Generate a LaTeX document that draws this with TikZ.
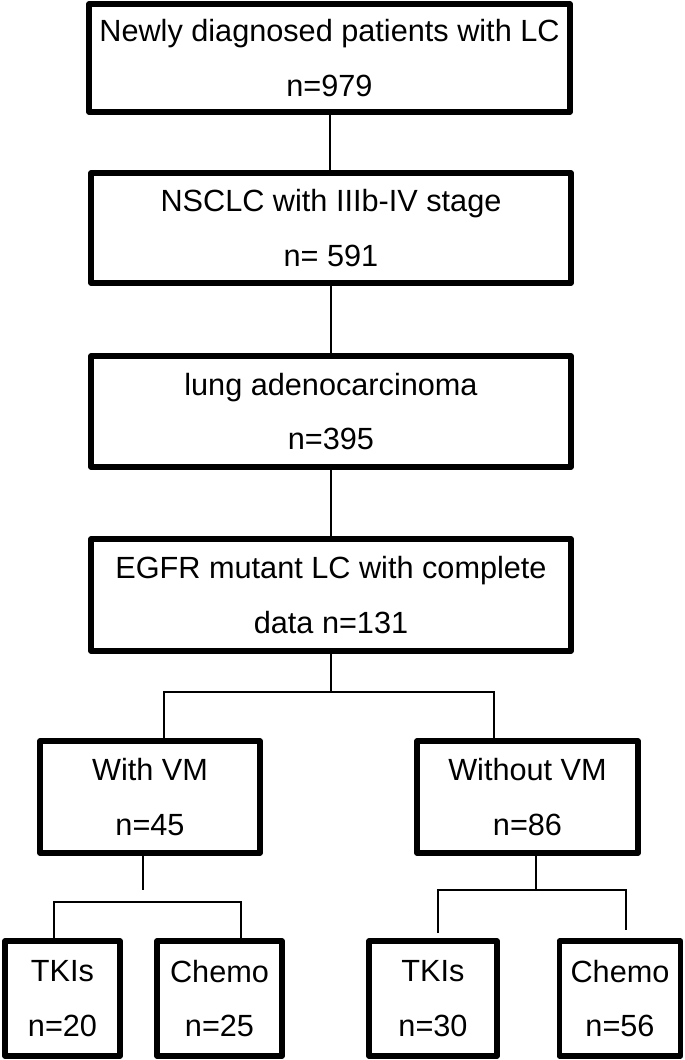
\documentclass[tikz,border=0pt]{standalone}
\usepackage{fontspec}
\setmainfont{Liberation Sans}
\newdimen\pxu
\pxu=0.75pt

\begin{document}
\begin{tikzpicture}[x=1\pxu,y=-1\pxu,box/.style n args={2}{draw,rectangle,line width=5.5\pxu,line join=round,minimum width=#1\pxu,minimum height=#2\pxu,inner sep=0pt,align=center,font=\fontsize{23}{41}\selectfont},ln/.style={line width=2\pxu}]
\useasboundingbox (0,0) rectangle (685,1060);
% main column
\node[box={481}{108}] (lc) at (329.5,58) {Newly diagnosed patients with LC\\n=979};
\node[box={480}{110}] (nsclc) at (331,228) {NSCLC with IIIb-IV stage\\n= 591};
\node[box={480}{111}] (adeno) at (331,411.5) {lung adenocarcinoma\\n=395};
\node[box={480}{112}] (egfr) at (331,595) {EGFR mutant LC with complete\\data n=131};
\draw[ln] (lc.south) -- (lc.south |- nsclc.north);
\draw[ln] (nsclc.south) -- (nsclc.south |- adeno.north);
\draw[ln] (adeno.south) -- (adeno.south |- egfr.north);
% VM groups
\node[box={220}{112}] (vm) at (150,797) {With VM\\n=45};
\node[box={221}{112}] (novm) at (527.5,797) {Without VM\\n=86};
\coordinate (s1l) at (164,692);
\coordinate (s1r) at (494,692);
\draw[ln] (egfr.south) -- (egfr.south |- s1l);
\draw[ln] (s1l |- vm.north) -- (s1l) -- (s1r) -- (s1r |- novm.north);
% treatments
\foreach \nm/\x/\w/\t/\v in %
{tk1/62.5/115/TKIs/20,ch1/219.5/125/Chemo/25,tk2/433/128/TKIs/30,ch2/620/121/Chemo/56} {
   \node[box={\w}{115}] (\nm) at (\x,998.5) {\t\\n=\v};
}
\coordinate (s2) at (143,890);
\coordinate (s2l) at (54,902);
\coordinate (s2r) at (241,902);
\draw[ln] (s2 |- vm.south) -- (s2);
\draw[ln] (s2l |- tk1.north) -- (s2l) -- (s2r) -- (s2r |- ch1.north);
\coordinate (s3) at (536,890);
\coordinate (s3l) at (438,933);
\coordinate (s3r) at (626,930);
\draw[ln] (s3 |- novm.south) -- (s3);
\draw[ln] (s3l) -- (s3l |- s3) -- (s3r |- s3) -- (s3r);
\end{tikzpicture}
\end{document}
